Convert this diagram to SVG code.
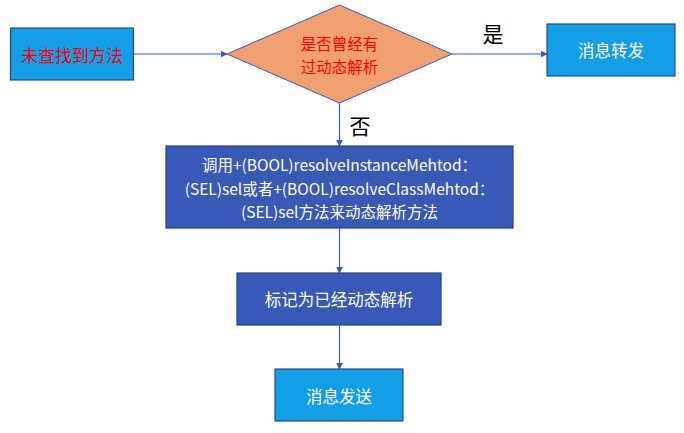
<svg xmlns="http://www.w3.org/2000/svg" width="684" height="433" viewBox="0 0 684 433">
<style>
text{font-family:"Noto Sans CJK SC","Liberation Sans",sans-serif;text-anchor:middle;dominant-baseline:central}
.lb{fill:#139ee8;stroke:#2a4a88;stroke-width:1.2}
.db{fill:#3759b8;stroke:#243f86;stroke-width:1.2}
.w{fill:#fff;font-size:16.5px}
.r{fill:#f00;font-size:15.5px}
.k{fill:#000;font-size:21px}
.l{fill:#fff;font-size:15.5px}
.c{stroke:#3a5bb8;stroke-width:1.2;fill:none;marker-end:url(#a)}
</style>
<defs>
<marker id="a" viewBox="0 0 10 10" refX="9" refY="5" markerWidth="7" markerHeight="7" orient="auto" markerUnits="userSpaceOnUse">
<path d="M0,0 L10,5 L0,10 z" fill="#3a5bb8"/>
</marker>
</defs>
<g id="connectors">
<line class="c" x1="133.6" y1="54" x2="227" y2="54"/>
<line class="c" x1="452" y1="54" x2="547" y2="54"/>
<line class="c" x1="339.5" y1="103" x2="339.5" y2="146"/>
<line class="c" x1="339.5" y1="228" x2="339.5" y2="273"/>
<line class="c" x1="339.5" y1="325" x2="339.5" y2="369"/>
<text class="k" x="493" y="33">是</text>
<text class="k" x="360" y="125">否</text>
</g>
<g id="start">
<rect class="lb" x="10.5" y="28" width="123" height="52"/>
<text class="r" x="72" y="54" style="font-size:17px">未查找到方法</text>
</g>
<g id="decision">
<polygon points="339.5,5 452,54 339.5,103 227,54" fill="#f0a070" stroke="#3a5bb8" stroke-width="1"/>
<text class="r" x="339.5" y="43">是否曾经有</text>
<text class="r" x="339.5" y="66">过动态解析</text>
</g>
<g id="forward">
<rect class="lb" x="547" y="24" width="128" height="52"/>
<text class="w" x="611" y="50">消息转发</text>
</g>
<g id="resolve">
<rect class="db" x="166" y="146" width="347" height="82"/>
<text class="l" x="339.5" y="164">调用+(BOOL)resolveInstanceMehtod：</text>
<text class="l" x="339.5" y="187.5">(SEL)sel或者+(BOOL)resolveClassMehtod：</text>
<text class="l" x="339.5" y="211">(SEL)sel方法来动态解析方法</text>
</g>
<g id="mark">
<rect class="db" x="237" y="273" width="204" height="52"/>
<text class="w" x="339" y="299">标记为已经动态解析</text>
</g>
<g id="send">
<rect class="lb" x="275" y="369" width="128" height="52"/>
<text class="w" x="339" y="396">消息发送</text>
</g>
</svg>
